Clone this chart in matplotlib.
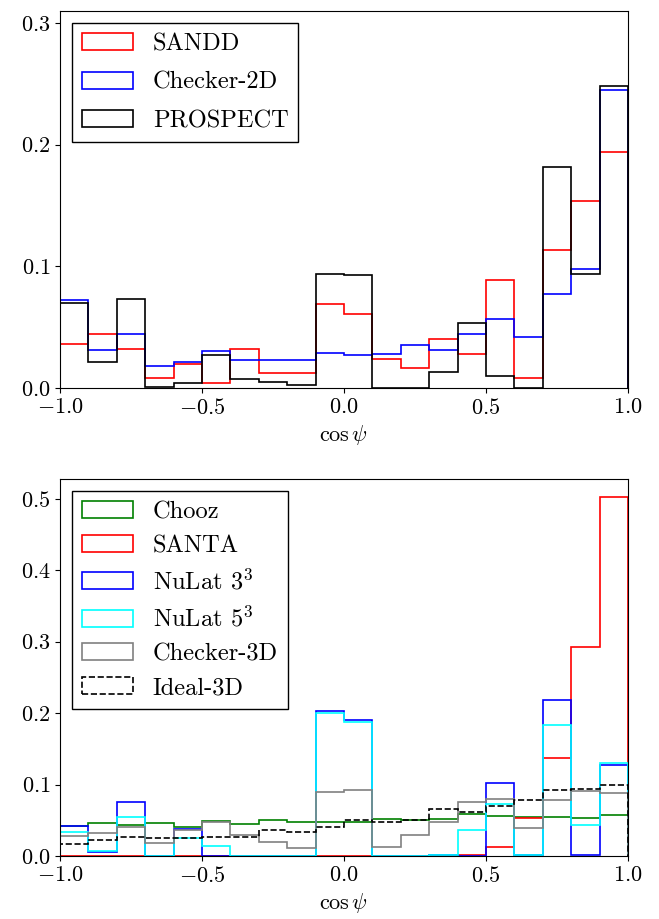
import numpy as np
import matplotlib
matplotlib.use("Agg")
import matplotlib.pyplot as plt

plt.rcParams['font.family'] = 'serif'
plt.rcParams['font.serif'] = ['cmr10']
plt.rcParams['mathtext.fontset'] = 'cm'
plt.rcParams['axes.formatter.use_mathtext'] = True

edges = np.linspace(-1.0, 1.0, 21)
centers = 0.5 * (edges[:-1] + edges[1:])

# top panel
sandd = [0.036, 0.044, 0.032, 0.008, 0.020, 0.004, 0.032, 0.012, 0.012, 0.069,
         0.061, 0.024, 0.016, 0.040, 0.028, 0.089, 0.008, 0.113, 0.154, 0.194]
checker_2d = [0.072, 0.031, 0.044, 0.018, 0.021, 0.030, 0.023, 0.023, 0.023, 0.029,
              0.027, 0.028, 0.035, 0.031, 0.044, 0.057, 0.042, 0.077, 0.098, 0.245]
prospect = [0.070, 0.021, 0.073, 0.001, 0.004, 0.027, 0.007, 0.005, 0.002, 0.094,
            0.093, 0.000, 0.000, 0.013, 0.053, 0.010, 0.000, 0.182, 0.094, 0.248]

# bottom panel
chooz = [0.042, 0.046, 0.044, 0.046, 0.040, 0.049, 0.045, 0.051, 0.048, 0.047,
         0.047, 0.052, 0.051, 0.052, 0.059, 0.056, 0.055, 0.055, 0.053, 0.057]
santa = [0.0, 0.0, 0.0, 0.0, 0.0, 0.0, 0.0, 0.0, 0.0, 0.0,
         0.0, 0.0, 0.0, 0.0, 0.002, 0.012, 0.053, 0.137, 0.293, 0.502]
nulat3 = [0.042, 0.006, 0.076, 0.0, 0.038, 0.0, 0.0, 0.0, 0.0, 0.203,
          0.190, 0.0, 0.0, 0.002, 0.0, 0.102, 0.001, 0.218, 0.001, 0.128]
nulat5 = [0.034, 0.007, 0.054, 0.0, 0.025, 0.014, 0.0, 0.0, 0.0, 0.200,
          0.188, 0.0, 0.0, 0.002, 0.036, 0.073, 0.002, 0.183, 0.043, 0.130]
checker_3d = [0.028, 0.032, 0.040, 0.018, 0.036, 0.048, 0.030, 0.020, 0.011, 0.090,
              0.092, 0.013, 0.030, 0.047, 0.076, 0.080, 0.039, 0.078, 0.091, 0.088]
ideal_3d = [0.017, 0.022, 0.026, 0.025, 0.025, 0.027, 0.027, 0.037, 0.033, 0.041,
            0.051, 0.047, 0.051, 0.066, 0.061, 0.070, 0.078, 0.093, 0.094, 0.100]

fig = plt.figure(figsize=(6.59, 9.19), dpi=100)
ax1 = fig.add_axes([0.091, 0.578, 0.862, 0.410])
ax2 = fig.add_axes([0.091, 0.0685, 0.862, 0.410])

lw = 1.2
top = [(sandd, 'red', 'SANDD'), (checker_2d, 'blue', 'Checker-2D'),
       (prospect, 'black', 'PROSPECT')]
for vals, c, lab in top:
    ax1.hist(centers, bins=edges, weights=vals, histtype='step', color=c,
             linewidth=lw, label=lab)

bottom = [(chooz, 'green', 'Chooz', '-'), (santa, 'red', 'SANTA', '-'),
          (nulat3, 'blue', r'NuLat $3^3$', '-'), (nulat5, 'cyan', r'NuLat $5^3$', '-'),
          (checker_3d, 'gray', 'Checker-3D', '-'), (ideal_3d, 'black', 'Ideal-3D', '--')]
for vals, c, lab, ls in bottom:
    ax2.hist(centers, bins=edges, weights=vals, histtype='step', color=c,
             linewidth=lw, linestyle=ls, label=lab)

ax1.set_ylim(0, 0.31)
ax2.set_ylim(0, 0.527)
ax1.set_yticks([0.0, 0.1, 0.2, 0.3])
ax2.set_yticks([0.0, 0.1, 0.2, 0.3, 0.4, 0.5])

for ax, spacing in ((ax1, 0.67), (ax2, 0.48)):
    ax.set_xlim(-1, 1)
    ax.set_xticks([-1.0, -0.5, 0.0, 0.5, 1.0])
    ax.tick_params(labelsize=16)
    ax.set_xlabel(r'$\cos\psi$', fontsize=16)
    leg = ax.legend(loc='upper left', fontsize=17.6, fancybox=False, framealpha=1,
                    edgecolor='black', handlelength=2.1, labelspacing=spacing)
    leg.get_frame().set_linewidth(1.0)

fig.savefig('out.png', dpi=100)
